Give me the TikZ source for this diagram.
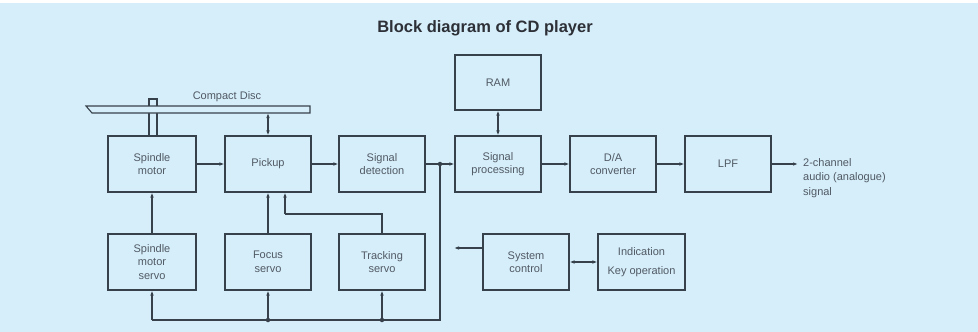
\documentclass[tikz,border=0pt]{standalone}
\usepackage{fontspec}
\setmainfont{Liberation Sans}
\usetikzlibrary{arrows.meta}
\definecolor{bg}{RGB}{214,238,250}
\definecolor{ln}{RGB}{55,65,75}
\definecolor{tx}{RGB}{80,90,100}
\definecolor{tt}{RGB}{45,48,55}
\tikzset{
  blk/.style={draw=ln, line width=1.1pt, minimum width=86pt, minimum height=56pt,
    inner sep=0pt, align=center, text=tx,
    font=\fontsize{11}{13.5}\selectfont},
  wire/.style={draw=ln, line width=1.1pt},
  arr/.style={wire, -{Latex[length=5pt,width=3.6pt]}},
  darr/.style={wire, {Latex[length=5pt,width=3.6pt]}-{Latex[length=5pt,width=3.6pt]}},
  jdot/.style={circle, fill=ln, inner sep=0pt, minimum size=4.5pt},
  lbl/.style={text=tx, font=\fontsize{11}{14.5}\selectfont, inner sep=0pt}
}
\begin{document}
\begin{tikzpicture}[x=1pt,y=-1pt]
\useasboundingbox (0,0) rectangle (978,332);
\fill[white] (0,0) rectangle (978,332);
\fill[bg] (0,3) rectangle (978,332);

\node[text=tt, font=\fontsize{16.5}{18}\selectfont\bfseries] (title) at (485,28) {Block diagram of CD player};

% disc and spindle shaft
\draw[wire] (149,136) -- (149,99) -- (157,99) -- (157,136);
\draw[wire, fill=bg] (86,106) -- (310,106) -- (310,113) -- (92,113) -- cycle;
\node[lbl] (cdl) at (227,97) {Compact Disc};
\coordinate (discb) at (268,113);

% top row
\node[blk, minimum width=88pt] (sm) at (152,164) {Spindle\\motor};
\node[blk] (pu) at (268,164) {Pickup};
\node[blk] (sd) at (382,164) {Signal\\detection};
\node[blk] (sp) at (498,164) {Signal\\processing};
\node[blk, minimum height=55pt] (ram) at (498,82.5) {RAM};
\node[blk] (da) at (613,164) {D/A\\converter};
\node[blk] (lpf) at (728,164) {LPF};

% bottom row
\node[blk, minimum width=88pt] (sms) at (152,262) {Spindle\\motor\\servo};
\node[blk] (fs) at (268,262) {Focus\\servo};
\node[blk] (ts) at (382,262) {Tracking\\servo};
\node[blk] (sc) at (526,262) {System\\control};
\node[blk, minimum width=87pt, font=\fontsize{11}{19}\selectfont] (ind) at (641.5,262) {Indication\\Key operation};

% output label
\node[lbl, anchor=west, align=left] (outl) at (803,178) {2-channel\\audio (analogue)\\signal};
\coordinate (out) at (798,164);

% main signal path
\draw[arr] (sm) -- (pu);
\draw[arr] (pu) -- (sd);
\coordinate (j) at (440,164);
\draw[wire] (sd.east) -- (j);
\draw[arr] (j) -- (sp.west);
\draw[arr] (sp) -- (da);
\draw[arr] (da) -- (lpf);
\draw[arr] (lpf.east) -- (out);
\draw[darr] (discb) -- (discb |- pu.north);
\draw[darr] (ram) -- (sp);

% servo feedback bus
\coordinate (bus) at (440,320);
\draw[wire] (j) -- (bus) -- (sms.south |- bus);
\draw[arr] (sms.south |- bus) -- (sms.south);
\draw[arr] (fs.south |- bus) -- (fs.south);
\draw[arr] (ts.south |- bus) -- (ts.south);
\node[jdot] (d1) at (j) {};
\node[jdot] (d2) at (fs.south |- bus) {};
\node[jdot] (d3) at (ts.south |- bus) {};

% servo outputs
\draw[arr] (sms) -- (sm);
\draw[arr] (fs) -- (pu);
\coordinate (tk) at (285,214);
\draw[wire] (ts.north) |- (tk);
\draw[arr] (tk) -- (tk |- pu.south);

% system control
\coordinate (scl) at (454,248);
\draw[arr] (scl -| sc.west) -- (scl);
\draw[darr] (sc) -- (ind);
\end{tikzpicture}
\end{document}
